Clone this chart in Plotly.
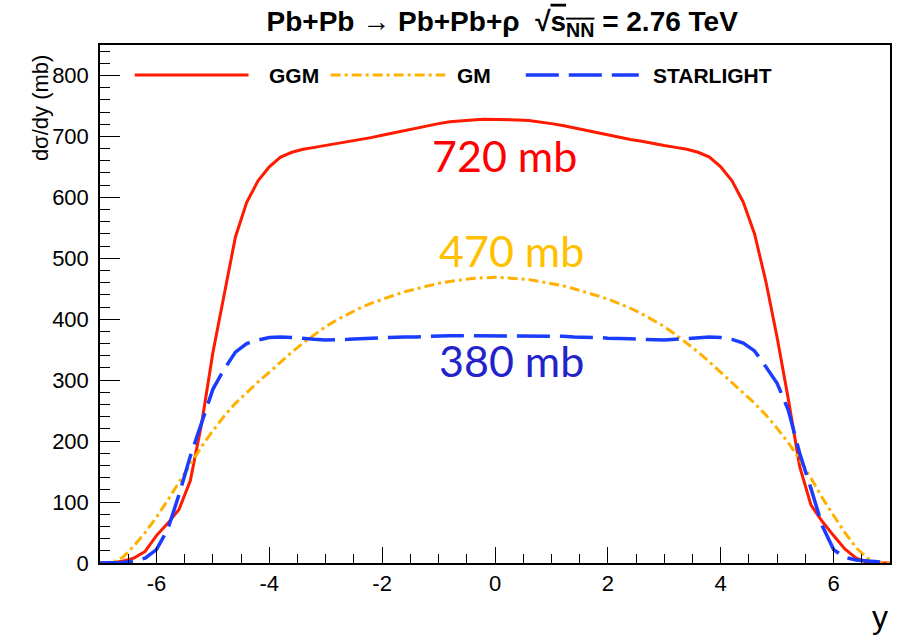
import plotly.graph_objects as go

# Rapidity grid and model predictions of d(sigma)/dy for coherent rho photoproduction
rapidity = [
    -7.0, -6.8, -6.6, -6.4, -6.2, -6.0, -5.8, -5.6, -5.4, -5.2, -5.0, -4.8, -4.6, -4.4, -4.2,
    -4.0, -3.8, -3.6, -3.4, -3.2, -3.0, -2.8, -2.6, -2.4, -2.2, -2.0, -1.8, -1.6, -1.4, -1.2,
    -1.0, -0.8, -0.6, -0.4, -0.2, 0.0, 0.2, 0.4, 0.6, 0.8, 1.0, 1.2, 1.4, 1.6, 1.8,
    2.0, 2.2, 2.4, 2.6, 2.8, 3.0, 3.2, 3.4, 3.6, 3.8, 4.0, 4.2, 4.4, 4.6, 4.8,
    5.0, 5.2, 5.4, 5.6, 5.8, 6.0, 6.2, 6.4, 6.6, 6.8, 7.0,
]

ggm = [
    0, 0, 3, 8, 19, 45, 65, 88, 135, 228, 345, 440, 535, 592, 627,
    650, 666, 674, 679, 682, 685, 688, 692, 695, 698, 702, 706, 710, 714, 718,
    721, 724, 726, 727, 728, 728, 728, 727, 726, 724, 721, 718, 714, 710, 706,
    702, 698, 695, 692, 688, 685, 682, 679, 674, 666, 650, 627, 592, 540, 462,
    370, 268, 158, 95, 68, 45, 23, 8, 1, 0, 0,
]

gm = [
    0, 0, 9, 28, 50, 75, 103, 133, 163, 191, 217, 241, 262, 280, 297,
    313, 330, 346, 361, 375, 388, 399, 409, 418, 426, 433, 439, 445, 450, 455,
    459, 462, 465, 467, 468, 469, 468, 467, 465, 462, 459, 455, 450, 445, 439,
    433, 426, 418, 409, 399, 388, 375, 361, 346, 330, 313, 297, 280, 262, 243,
    221, 197, 170, 139, 107, 78, 50, 25, 8, 0, 0,
]

starlight = [
    0, 0, 1, 3, 8, 22, 55, 112, 175, 230, 285, 318, 346, 360, 366,
    370, 371, 370, 368, 367, 366, 366, 367, 368, 369, 369, 370, 371, 371, 372,
    372, 373, 373, 373, 373, 373, 373, 373, 373, 373, 372, 372, 371, 371, 370,
    369, 369, 368, 367, 366, 366, 367, 368, 370, 371, 370, 367, 361, 348, 322,
    295, 250, 180, 122, 61, 22, 9, 5, 3, 1, 0,
]

series_names = ["GGM", "GM", "STARLIGHT"]
series_values = [ggm, gm, starlight]
series_colors = ["#ff1a00", "#ffb000", "#1a3cff"]
series_dash = ["solid", "10px,4px,3px,4px", "33px,10px"]
series_width = [3, 3, 3.5]

total_labels = ["720 mb", "470 mb", "380 mb"]
total_colors = ["#ff0000", "#ffc000", "#2323cc"]
total_pos_x = [0.16, 0.29, 0.29]
total_pos_y = [669, 512, 332]

fig = go.Figure()
for name, vals, col, dash, w in zip(series_names, series_values, series_colors, series_dash, series_width):
    fig.add_trace(go.Scatter(
        x=rapidity, y=vals, mode="lines", name=name, showlegend=False,
        line=dict(color=col, width=w, dash=dash),
    ))

# Hand-drawn legend row across the top of the frame
legend_y = 0.942
legend_lines = [(0.044, 0.188), (0.292, 0.437), (0.539, 0.682)]
legend_text_x = [0.211, 0.4495, 0.697]
for (x0, x1), tx, name, col, dash, w in zip(legend_lines, legend_text_x, series_names,
                                            series_colors, series_dash, series_width):
    fig.add_shape(type="line", xref="paper", yref="paper", x0=x0, x1=x1, y0=legend_y, y1=legend_y,
                  line=dict(color=col, width=w, dash=dash))
    fig.add_annotation(x=tx, y=legend_y, xref="paper", yref="paper", text=f"<b>{name}</b>",
                       showarrow=False, xanchor="left", yanchor="middle",
                       font=dict(family="Liberation Sans, Arial", size=21, color="black"))

for lab, col, tx, ty in zip(total_labels, total_colors, total_pos_x, total_pos_y):
    fig.add_annotation(x=tx, y=ty, text=lab, showarrow=False, xanchor="center", yanchor="middle",
                       font=dict(family="Lato, Open Sans, sans-serif", size=43, color=col))

tick_font = dict(family="Liberation Sans, Arial", size=22, color="black")

fig.add_annotation(x=-0.076, y=0.88, xref="paper", yref="paper", text="dσ/dy (mb)", textangle=-90,
                   showarrow=False, xanchor="center", yanchor="middle",
                   font=dict(family="Liberation Sans, Arial", size=22, color="black"))
fig.add_annotation(x=1.0, y=-0.105, xref="paper", yref="paper", text="y",
                   showarrow=False, xanchor="right", yanchor="middle",
                   font=dict(family="Liberation Sans, Arial", size=32, color="black"))

fig.update_layout(
    width=900, height=635,
    margin=dict(l=100, r=8, t=45, b=72),
    paper_bgcolor="white", plot_bgcolor="white",
    title=dict(
        text="<b>Pb+Pb → Pb+Pb+ρ  √<span style='text-decoration:overline'>s<sub>NN</sub></span> = 2.76 TeV</b>",
        x=0.558, xanchor="center", y=0.967, yanchor="middle",
        font=dict(family="Liberation Sans, Arial", size=28, color="black"),
    ),
    xaxis=dict(
        range=[-7, 7], showgrid=False, zeroline=False,
        showline=True, linecolor="black", linewidth=1.5, mirror=True,
        ticks="inside", ticklen=16, tickwidth=1.3, tickcolor="black",
        tickvals=[-6, -4, -2, 0, 2, 4, 6], ticktext=["-6", "-4", "-2", "0", "2", "4", "6"],
        tickfont=tick_font,
        minor=dict(ticks="inside", ticklen=9, dtick=0.5, tickwidth=1.3, tickcolor="black"),
    ),
    yaxis=dict(
        range=[0, 850], showgrid=False, zeroline=False,
        showline=True, linecolor="black", linewidth=1.5, mirror=True,
        ticks="inside", ticklen=20, tickwidth=1.3, tickcolor="black",
        tickvals=[0, 100, 200, 300, 400, 500, 600, 700, 800],
        tickfont=tick_font, ticklabelstandoff=5,
        minor=dict(ticks="inside", ticklen=10, dtick=20, tickwidth=1.3, tickcolor="black"),
    ),
)

fig.write_html("out.html")
